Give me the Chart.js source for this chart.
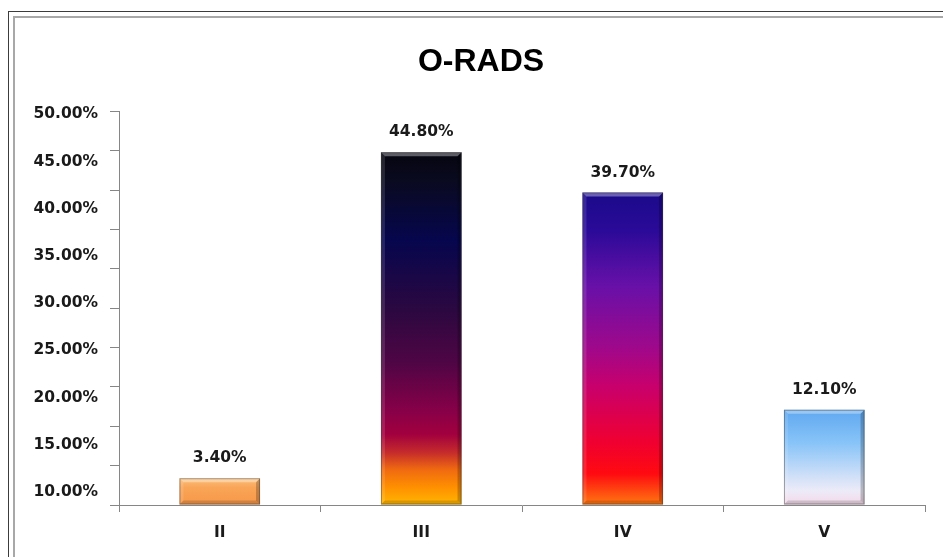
<!DOCTYPE html>
<html>
<head>
<meta charset="utf-8">
<script src="https://cdn.jsdelivr.net/npm/chart.js@4"></script>
<style>
  html, body { margin: 0; padding: 0; background: #fff; overflow: hidden; }
  #frame1 { position: absolute; left: 8px; top: 11px; width: 1000px; height: 600px;
            border-left: 1px solid #3c3c3c; border-top: 1px solid #3c3c3c; }
  #frame2 { position: absolute; left: 13px; top: 16px; width: 1000px; height: 600px;
            border-left: 2px solid #a8a8a8; border-top: 2px solid #a8a8a8; }
  #stage { position: absolute; left: 0; top: 0; }
</style>
</head>
<body>
<div id="frame1"></div>
<div id="frame2"></div>
<canvas id="stage" width="943" height="557"></canvas>
<script>
// data
var categories = ['II', 'III', 'IV', 'V'];
var values = [3.4, 44.8, 39.7, 12.1];
var yTickLabels = [10, 15, 20, 25, 30, 35, 40, 45, 50];

// bar gradients, top -> bottom
var barStops = [
  [[0, '#fcbf78'], [0.35, '#f9a558'], [1, '#f79646']],
  [[0, '#05050f'], [0.08, '#0a0a20'], [0.25, '#06064e'], [0.45, '#2c0840'], [0.6, '#500545'],
   [0.74, '#8a0048'], [0.8, '#a2003e'], [0.85, '#c42a2c'], [0.9, '#f06a10'], [0.95, '#ff9000'], [1, '#ffb800']],
  [[0, '#1a0a8a'], [0.12, '#2a0a98'], [0.3, '#6810a8'], [0.5, '#a0088a'], [0.62, '#c8006c'],
   [0.8, '#f00030'], [0.9, '#ff0a10'], [1, '#ff7a10']],
  [[0, '#60a8f0'], [0.35, '#88c4f8'], [0.7, '#d0e0f8'], [0.85, '#ecebf8'], [1, '#f4d8e8']]
];

var FONT = "'DejaVu Sans', Verdana, sans-serif";
var FSIZE = 15.5;

function barFill(ctx) {
  var chart = ctx.chart;
  if (!chart.chartArea || !chart.scales.y) return '#888';
  var y = chart.scales.y;
  var top = y.getPixelForValue(values[ctx.dataIndex]);
  var base = y.getPixelForValue(0);
  var g = chart.ctx.createLinearGradient(0, top, 0, base);
  barStops[ctx.dataIndex].forEach(function(s) { g.addColorStop(s[0], s[1]); });
  return g;
}

// bevel look + value labels over the bars
var bevel = {
  id: 'bevel',
  afterDatasetsDraw: function(chart) {
    var c = chart.ctx;
    var meta = chart.getDatasetMeta(0);
    meta.data.forEach(function(bar, i) {
      var l = bar.x - bar.width / 2, r = bar.x + bar.width / 2;
      var t = bar.y, b = bar.base, e = 4;
      c.save();
      c.fillStyle = 'rgba(255,255,255,0.35)';
      c.beginPath(); c.moveTo(l, t); c.lineTo(r, t); c.lineTo(r - e, t + e); c.lineTo(l + e, t + e); c.closePath(); c.fill();
      c.fillStyle = 'rgba(0,0,0,0.22)';
      c.beginPath(); c.moveTo(r, t); c.lineTo(r, b); c.lineTo(r - e, b - e); c.lineTo(r - e, t + e); c.closePath(); c.fill();
      c.fillStyle = 'rgba(255,255,255,0.12)';
      c.beginPath(); c.moveTo(l, t); c.lineTo(l + e, t + e); c.lineTo(l + e, b - e); c.lineTo(l, b); c.closePath(); c.fill();
      c.fillStyle = 'rgba(0,0,0,0.15)';
      c.beginPath(); c.moveTo(l, b); c.lineTo(l + e, b - e); c.lineTo(r - e, b - e); c.lineTo(r, b); c.closePath(); c.fill();
      c.strokeStyle = 'rgba(60,60,60,0.45)';
      c.lineWidth = 1;
      c.strokeRect(l + 0.5, t + 0.5, bar.width - 1, b - t - 1);

      c.fillStyle = '#1a1a1a';
      c.font = 'bold ' + FSIZE + 'px ' + FONT;
      c.textAlign = 'center';
      c.textBaseline = 'middle';
      c.fillText(values[i].toFixed(2) + '%', bar.x, t - 20);
      c.restore();
    });
  }
};

var canvas = document.getElementById('stage');
var chart = new Chart(canvas, {
  type: 'bar',
  data: {
    labels: categories,
    datasets: [{
      data: values,
      backgroundColor: barFill,
      borderWidth: 0,
      barPercentage: 0.8,
      categoryPercentage: 0.5
    }]
  },
  options: {
    responsive: false,
    animation: false,
    devicePixelRatio: 1,
    // negative right padding + spacer axis on the right: keeps the plot where it is
    // while the title is centred a bit right of the canvas middle, as in the picture
    layout: { padding: { left: 0, right: -19, top: 0, bottom: 0 } },
    plugins: {
      legend: { display: false },
      tooltip: { enabled: false },
      title: {
        display: true,
        text: 'O-RADS',
        color: '#000',
        font: { family: "'Liberation Sans', Arial, sans-serif", size: 32, weight: 'bold' },
        padding: { top: 43, bottom: 30 }
      }
    },
    scales: {
      x: {
        grid: { offset: true, drawOnChartArea: false, tickLength: 7, color: '#868686' },
        border: { display: true, color: '#868686' },
        ticks: { color: '#1a1a1a', padding: 12, font: { family: FONT, size: FSIZE, weight: 'bold' } },
        afterFit: function(s) { s.height = 52; }
      },
      y: {
        position: 'left',
        weight: 0,
        min: 0,
        max: 50,
        ticks: { stepSize: 5, autoSkip: false, callback: function() { return ''; }, padding: 0 },
        grid: { drawOnChartArea: false, tickLength: 9, color: '#868686' },
        border: { display: true, color: '#868686' },
        afterFit: function(s) { s.width = 21; }
      },
      yLabels: {
        type: 'linear',
        position: 'left',
        weight: 1,
        min: 8.624,
        max: 50.317,
        grid: { display: false, tickLength: 0 },
        border: { display: false },
        afterBuildTicks: function(s) { s.ticks = yTickLabels.map(function(v) { return { value: v }; }); },
        ticks: {
          padding: 0,
          color: '#1a1a1a',
          font: { family: FONT, size: FSIZE, weight: 'bold' },
          callback: function(v) { return v.toFixed(2) + '%'; }
        },
        afterFit: function(s) { s.width = 98; }
      },
      spacer: {
        type: 'linear',
        position: 'right',
        grid: { display: false, tickLength: 0 },
        border: { display: false },
        ticks: { display: false },
        afterFit: function(s) { s.width = 37; }
      }
    }
  },
  plugins: [bevel]
});
</script>
</body>
</html>
